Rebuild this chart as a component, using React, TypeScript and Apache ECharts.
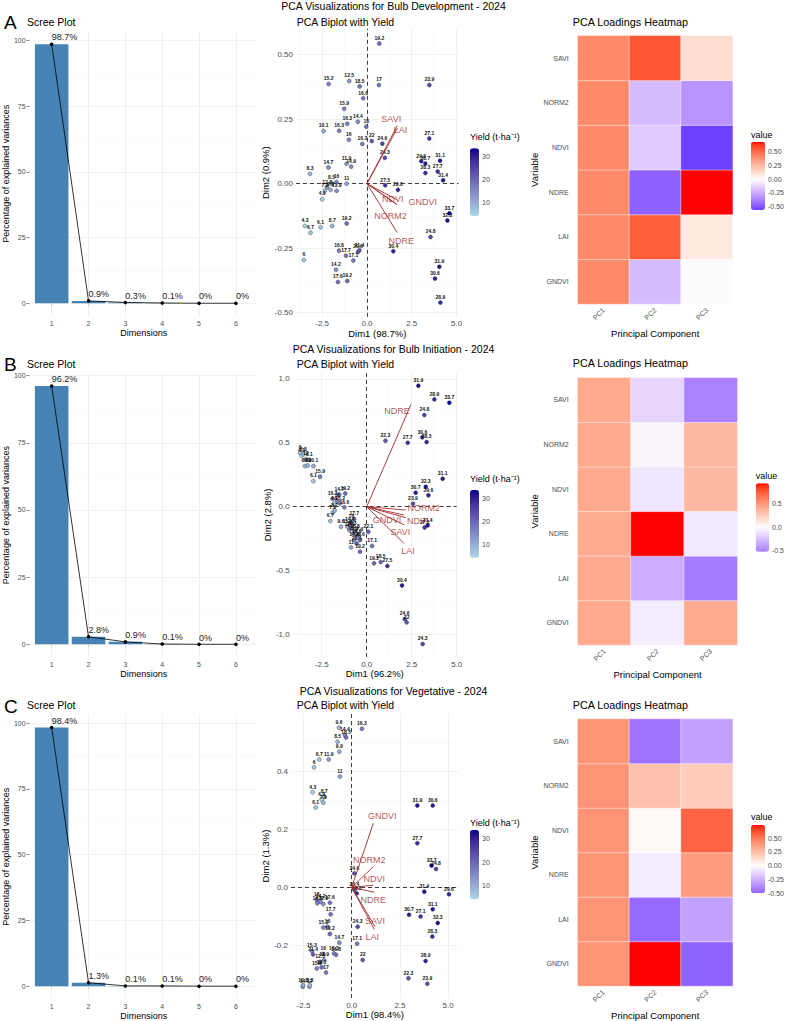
import React, { useEffect, useRef } from "react";
import * as echarts from "echarts";

const FONT = "'Liberation Sans', Arial, Helvetica, sans-serif";
const AXIS_GRAY = "#4D4D4D";
const ARROW_RED = "#A52A2A";
const OPEN_ARROW = "path://M5 0L10 10L8.4 10L5 3.4L1.6 10L0 10Z";

// ---------------- data ----------------
const dimensions = [1, 2, 3, 4, 5, 6];
const screeDev = [98.7, 0.9, 0.3, 0.1, 0, 0];
const screeInit = [96.2, 2.8, 0.9, 0.1, 0, 0];
const screeVeg = [98.4, 1.3, 0.1, 0.1, 0, 0];

const variables = ["GNDVI", "LAI", "NDRE", "NDVI", "NORM2", "SAVI"];
const components = ["PC1", "PC2", "PC3"];

// loadings [PC1, PC2, PC3], rows follow `variables`
const loadDev = [
  [0.41, -0.2, 0.0],
  [0.41, 0.54, 0.08],
  [0.41, -0.47, 0.685],
  [0.41, -0.155, -0.56],
  [0.41, -0.2, -0.32],
  [0.41, 0.56, 0.12],
];
const loadInit = [
  [0.41, -0.075, 0.4],
  [0.41, -0.33, -0.52],
  [0.4, 0.925, -0.09],
  [0.41, -0.1, 0.34],
  [0.41, -0.03, 0.34],
  [0.41, -0.165, -0.5],
];
const loadVeg = [
  [0.41, 0.74, -0.5],
  [0.41, -0.48, -0.3],
  [0.41, -0.06, 0.38],
  [0.41, 0.02, 0.56],
  [0.41, 0.24, 0.2],
  [0.41, -0.45, -0.3],
];

// biplot individuals [Dim1, Dim2, yield]
const ptsDev = [
  [0.69, 0.543, 19.2], [-2.14, 0.386, 15.2], [-0.99, 0.398, 12.5], [-0.41, 0.377, 18.5], [0.67, 0.382, 17],
  [3.48, 0.382, 23.9], [-0.21, 0.331, 16.6], [-1.27, 0.29, 15.9], [-1.1, 0.232, 16.3], [-0.51, 0.24, 14.4],
  [-0.04, 0.221, 18], [-2.42, 0.204, 10.1], [-1.55, 0.205, 16.3], [-1.01, 0.17, 16], [-0.26, 0.154, 16.3],
  [0.27, 0.165, 22], [0.86, 0.155, 24.6], [3.48, 0.175, 27.1], [1.0, 0.1, 24.3], [3.03, 0.087, 29.6],
  [3.26, 0.078, 30.7], [4.08, 0.089, 31.1], [3.26, 0.041, 28.3], [3.95, 0.047, 27.7], [4.25, 0.013, 31.4],
  [-2.15, 0.063, 14.7], [-1.14, 0.077, 11.9], [-0.88, 0.066, 14.9], [-3.18, 0.038, 8.3], [1.02, -0.006, 27.5],
  [1.73, -0.024, 29.8], [-1.7, 0.006, 16], [-1.98, 0.003, 8.5], [-1.14, 0.0, 11], [-2.22, -0.014, 12.9],
  [-2.35, -0.027, 7.9], [-2.03, -0.024, 9.9], [-1.69, -0.028, 13.9], [-2.5, -0.06, 4.9], [-3.46, -0.164, 4.3],
  [-3.15, -0.19, 6.7], [-2.59, -0.169, 6.1], [-1.94, -0.164, 8.7], [-1.13, -0.154, 19.2], [-3.52, -0.296, 6],
  [-1.56, -0.26, 16.8], [-1.17, -0.279, 17.7], [-0.5, -0.265, 20.6], [-0.42, -0.258, 21.4], [-0.76, -0.298, 17.1],
  [-1.73, -0.334, 14.2], [-1.62, -0.381, 17.6], [-1.1, -0.377, 19.2], [4.6, -0.115, 33.7], [4.49, -0.143, 32.3],
  [3.55, -0.207, 24.8], [1.47, -0.262, 30.4], [4.04, -0.322, 31.9], [3.8, -0.368, 30.6], [4.1, -0.461, 28.9],
];
const ptsInit = [
  [2.87, 0.947, 31.9], [3.76, 0.84, 28.9], [4.59, 0.814, 33.7], [3.2, 0.717, 24.8], [1.04, 0.516, 22.3],
  [2.28, 0.5, 27.7], [3.09, 0.543, 30.6], [3.33, 0.506, 28.3], [4.22, 0.219, 31.1], [3.28, 0.156, 32.3],
  [2.72, 0.11, 30.7], [3.43, 0.089, 29.6], [2.57, 0.023, 23.9], [3.22, -0.162, 27.1], [3.39, -0.146, 31.4],
  [0.09, -0.196, 22.1], [0.3, -0.308, 17.1], [0.41, -0.443, 19.2], [0.78, -0.433, 18.5], [1.15, -0.464, 27.5],
  [1.96, -0.616, 30.4], [2.11, -0.879, 24.6], [2.22, -0.905, 22], [3.11, -1.075, 24.3],
  [-3.7, 0.42, 6], [-3.62, 0.4, 4.3], [-3.52, 0.41, 8.3], [-3.37, 0.372, 12], [-3.19, 0.368, 8.1],
  [-3.43, 0.318, 8.5], [-3.28, 0.322, 9.9], [-2.96, 0.318, 10.1], [-2.59, 0.235, 15.9], [-2.96, 0.2, 6.1],
  [-1.52, 0.095, 14.7], [-1.19, 0.104, 19.2], [-1.89, 0.062, 16.3], [-1.63, 0.047, 16], [-1.48, 0.026, 15.2],
  [-1.24, -0.005, 16.6], [-1.81, 0.026, 4.9], [-2.02, -0.112, 6.7], [-1.89, -0.047, 7.9], [-1.78, -0.029, 8.7],
  [-1.43, -0.156, 9.6], [-1.07, -0.156, 11.9], [-0.93, -0.143, 14.4], [-0.83, -0.17, 16.3], [-0.96, -0.183, 12.9],
  [-0.74, -0.209, 13.9], [-0.65, -0.196, 16.8], [-0.56, -0.235, 14.9], [-0.46, -0.222, 17.6], [-0.7, -0.261, 14.2],
  [-0.37, -0.261, 20.6], [-0.56, -0.287, 21.4], [-0.87, -0.318, 11], [-0.37, -0.352, 19.2], [-0.69, -0.097, 17.7],
  [-0.85, -0.12, 18],
];
const ptsVeg = [
  [-0.66, 0.551, 9.6], [0.53, 0.547, 16.3], [-0.35, 0.525, 14.4], [-0.29, 0.517, 18.5], [-0.73, 0.502, 8.5],
  [-0.64, 0.468, 9.9], [-1.68, 0.441, 6.7], [-1.19, 0.441, 11.9], [-1.95, 0.414, 6], [-0.61, 0.382, 11],
  [-2.02, 0.328, 4.3], [-1.43, 0.313, 8.7], [-1.56, 0.303, 4.9], [-1.47, 0.292, 7.9], [-1.87, 0.275, 6.1],
  [3.4, 0.282, 31.9], [4.2, 0.282, 30.6], [3.4, 0.152, 27.7], [4.14, 0.075, 33.7], [4.37, 0.063, 24.8],
  [0.14, 0.048, 24.6], [0.14, -0.009, 20.4], [0.26, -0.021, 29.8], [3.76, -0.015, 31.4], [5.04, -0.024, 29.6],
  [4.2, -0.076, 31.1], [2.97, -0.095, 30.7], [3.57, -0.101, 27.1], [4.46, -0.123, 32.3], [4.18, -0.17, 28.3],
  [0.31, -0.136, 24.3], [0.28, -0.195, 17.1], [0.57, -0.251, 22], [3.83, -0.254, 28.9], [2.94, -0.314, 22.3],
  [3.92, -0.333, 23.9],
  [-1.81, -0.044, 18], [-1.61, -0.05, 14.2], [-1.47, -0.058, 12.9], [-1.78, -0.055, 16.6], [-1.13, -0.053, 17.6],
  [-1.09, -0.093, 17.7], [-1.25, -0.136, 16], [-1.47, -0.139, 15.2], [-1.13, -0.161, 19.2], [-0.64, -0.191, 14.7],
  [-2.06, -0.22, 15.3], [-2.0, -0.232, 21.4], [-0.81, -0.233, 16.8], [-0.92, -0.228, 16.3], [-1.47, -0.23, 16],
  [-1.43, -0.251, 13.9], [-1.64, -0.257, 12.5], [-1.81, -0.28, 15.9], [-1.56, -0.276, 19.2], [-1.33, -0.294, 17],
  [-2.54, -0.343, 14], [-2.19, -0.343, 12], [-2.52, -0.338, 10.1], [-2.17, -0.338, 8.3],
];

// variable arrows [name, Dim1, Dim2]
const arrDev = [["SAVI", 1.69, 0.225], ["LAI", 1.7, 0.215], ["NDVI", 1.66, -0.062], ["GNDVI", 1.67, -0.08], ["NORM2", 1.65, -0.08], ["NDRE", 1.69, -0.19]];
const arrInit = [["NDRE", 2.46, 0.8], ["NORM2", 2.17, -0.026], ["GNDVI", 2.07, -0.065], ["NDVI", 2.17, -0.086], ["SAVI", 2.09, -0.143], ["LAI", 2.07, -0.287]];
const arrVeg = [["GNDVI", 1.12, 0.221], ["NORM2", 1.12, 0.071], ["NDVI", 1.12, 0.007], ["NDRE", 1.17, -0.017], ["SAVI", 1.21, -0.136], ["LAI", 1.17, -0.145]];

// tick labels
const screeYTicks = [0, 25, 50, 75, 100];
const bipXTicks = [-2.5, 0, 2.5, 5];
const devYTicks = [-0.5, -0.25, 0, 0.25, 0.5];
const initYTicks = [-1, -0.5, 0, 0.5, 1];
const vegYTicks = [-0.2, 0, 0.2, 0.4];
const yieldTicks = [10, 20, 30];
const heatTicksDev = [-0.5, -0.25, 0, 0.25, 0.5];
const heatTicksInit = [-0.5, 0, 0.5];
const heatTicksVeg = [-0.5, -0.25, 0, 0.25, 0.5];

const stages = [
  { title: "PCA Visualizations for Bulb Development - 2024", letter: "A", scree: screeDev, pts: ptsDev, arrows: arrDev, loads: loadDev, yTicks: devYTicks, yDigits: 2, heatTicks: heatTicksDev, heatDigits: 2, dim1: "Dim1 (98.7%)", dim2: "Dim2 (0.9%)" },
  { title: "PCA Visualizations for Bulb Initiation - 2024", letter: "B", scree: screeInit, pts: ptsInit, arrows: arrInit, loads: loadInit, yTicks: initYTicks, yDigits: 1, heatTicks: heatTicksInit, heatDigits: 1, dim1: "Dim1 (96.2%)", dim2: "Dim2 (2.8%)" },
  { title: "PCA Visualizations for Vegetative - 2024", letter: "C", scree: screeVeg, pts: ptsVeg, arrows: arrVeg, loads: loadVeg, yTicks: vegYTicks, yDigits: 1, heatTicks: heatTicksVeg, heatDigits: 2, dim1: "Dim1 (98.4%)", dim2: "Dim2 (1.3%)" },
];

// ---------------- layout (pixels / scale limits) ----------------
const layouts = [
  {
    titleY: 5.7, subY: 21.5,
    scree: { l: 27, t: 31.2, w: 231, h: 285 },
    bi: { l: 296, t: 28.6, w: 162.5, h: 288.2, xMin: -3.96, xMax: 5.11, yMin: -0.516, yMax: 0.601, yGap: 18 },
    heat: { l: 577.7, t: 35.7, w: 155, h: 268.3 },
    ybar: { l: 470, t: 148.3, w: 9, h: 67.7, titleY: 137.3 },
    hbar: { l: 751, t: 141.7, w: 14, h: 68.3, titleY: 135 },
  },
  {
    titleY: 349, subY: 363.3,
    scree: { l: 27, t: 373, w: 231, h: 284.2 },
    bi: { l: 292.7, t: 372.8, w: 164, h: 284.2, xMin: -4.11, xMax: 5.0, yMin: -1.176, yMax: 1.048, yGap: 18 },
    heat: { l: 577.7, t: 377.7, w: 159.6, h: 267.3 },
    ybar: { l: 470, t: 490, w: 9, h: 67.7, titleY: 479.3 },
    hbar: { l: 755.7, t: 483.3, w: 13.3, h: 68.4, titleY: 475.7 },
  },
  {
    titleY: 690.7, subY: 705,
    scree: { l: 27, t: 714.5, w: 231, h: 285 },
    bi: { l: 291, t: 714, w: 167.7, h: 284, xMin: -3.145, xMax: 5.545, yMin: -0.382, yMax: 0.598, yGap: 15 },
    heat: { l: 577.7, t: 719, w: 155, h: 268.3 },
    ybar: { l: 470, t: 830, w: 9, h: 69.3, titleY: 822.7 },
    hbar: { l: 751, t: 825, w: 14, h: 68.3, titleY: 816.7 },
  },
];
const arrowLabelOffsets = [
  [[-6, -7], [3, 2], [-4, -1], [26, -2], [-6, 12], [4, 8]],
  [[-14, 7], [18, -2], [-17, 5], [12, 3], [-4, 7], [4, 8]],
  [[9, -7], [-4, -7], [1, -6], [-1, 8], [0, -6], [-2, 8]],
];

// ---------------- colour helpers (Lab interpolation like ggplot) ----------------
const hexRgb = (h: string) => [1, 3, 5].map((i) => parseInt(h.slice(i, i + 2), 16));
const toLin = (c: number) => { c /= 255; return c <= 0.04045 ? c / 12.92 : Math.pow((c + 0.055) / 1.055, 2.4); };
const fromLin = (c: number) => { const v = c <= 0.0031308 ? 12.92 * c : 1.055 * Math.pow(c, 1 / 2.4) - 0.055; return Math.round(Math.min(1, Math.max(0, v)) * 255); };
const XN = 0.95047, YN = 1, ZN = 1.08883;
function rgbToLab(rgb: number[]) {
  const [r, g, b] = rgb.map(toLin);
  const x = (0.4124564 * r + 0.3575761 * g + 0.1804375 * b) / XN;
  const y = (0.2126729 * r + 0.7151522 * g + 0.072175 * b) / YN;
  const z = (0.0193339 * r + 0.119192 * g + 0.9503041 * b) / ZN;
  const f = (t: number) => (t > 216 / 24389 ? Math.cbrt(t) : ((24389 / 27) * t + 16) / 116);
  const fx = f(x), fy = f(y), fz = f(z);
  return [116 * fy - 16, 500 * (fx - fy), 200 * (fy - fz)];
}
function labToHex(lab: number[]) {
  const [L, a, b] = lab;
  const fy = (L + 16) / 116, fx = fy + a / 500, fz = fy - b / 200;
  const inv = (t: number) => { const t3 = t * t * t; return t3 > 216 / 24389 ? t3 : (116 * t - 16) / (24389 / 27); };
  const x = inv(fx) * XN, y = inv(fy) * YN, z = inv(fz) * ZN;
  const r = 3.2404542 * x - 1.5371385 * y - 0.4985314 * z;
  const g = -0.969266 * x + 1.8760108 * y + 0.041556 * z;
  const bb = 0.0556434 * x - 0.2040259 * y + 1.0572252 * z;
  return "#" + [r, g, bb].map((v) => fromLin(v).toString(16).padStart(2, "0")).join("");
}
function mixLab(c1: string, c2: string, t: number) {
  const A = rgbToLab(hexRgb(c1)), B = rgbToLab(hexRgb(c2));
  return labToHex(A.map((v, i) => v + (B[i] - v) * t));
}
function heatStops(min: number, max: number) {
  const M = Math.max(Math.abs(min), Math.abs(max));
  const out: string[] = [];
  for (let i = 0; i <= 24; i++) {
    const v = min + ((max - min) * i) / 24;
    const t = v / M;
    out.push(t < 0 ? mixLab("#FFFFFF", "#0000FF", -t) : mixLab("#FFFFFF", "#FF0000", t));
  }
  return out;
}
function yieldStops() {
  const out: string[] = [];
  for (let i = 0; i <= 16; i++) out.push(mixLab("#ADD8E6", "#00008B", i / 16));
  return out;
}
function minorsOf(ticks: number[], lo: number, hi: number) {
  const step = ticks[1] - ticks[0];
  let v = ticks[0] - step / 2;
  while (v - step >= lo) v -= step;
  const out: number[] = [];
  for (; v <= hi + 1e-9; v += step) if (v >= lo - 1e-9) out.push(+v.toFixed(6));
  return out;
}

// ---------------- option ----------------
function buildOption() {
  const grid: any[] = [], xAxis: any[] = [], yAxis: any[] = [], series: any[] = [], visualMap: any[] = [], title: any[] = [];
  const major = { color: "#EBEBEB", width: 0.7, type: "solid" };
  const minor = { color: "#F3F3F3", width: 0.45, type: "solid" };
  const gl = (axis: string, v: number, st: any) => ({ [axis]: v, lineStyle: st });
  const lbl = (vals: any, digits: number | null, extra: any = {}) => ({
    customValues: vals, fontSize: 7, color: AXIS_GRAY, fontFamily: FONT,
    formatter: (v: number) => (digits == null ? String(v) : Number(v).toFixed(digits)), ...extra,
  });
  const addText = (text: string, left: any, cy: number, size: number) =>
    title.push({ text, left, top: cy - size / 2, padding: 0, textStyle: { fontSize: size, fontWeight: "normal", color: "#000", fontFamily: FONT } });
  const allYields = stages.flatMap((s) => s.pts.map((p) => p[2]));
  const yMinV = Math.min(...allYields), yMaxV = Math.max(...allYields);
  const yStops = yieldStops();

  stages.forEach((s, r) => {
    const L = layouts[r];
    addText(s.title, "center", L.titleY, 10.5);
    addText(s.letter, 4, L.subY + 1, 19);
    addText("Scree Plot", 27, L.subY, 10.5);
    addText("PCA Biplot with Yield", 296.7, L.subY, 10.5);
    addText("PCA Loadings Heatmap", 572.7, L.subY, 10.8);
    addText("Yield (t·ha⁻¹)", L.ybar.l, L.ybar.titleY, 9);
    addText("value", L.hbar.l, L.hbar.titleY, 9);

    // ---- scree ----
    const g0 = grid.length;
    const smax = Math.max(...s.scree);
    grid.push({ left: L.scree.l, top: L.scree.t, width: L.scree.w, height: L.scree.h });
    xAxis.push({
      type: "value", gridIndex: g0, min: 0.4, max: 6.6,
      axisLine: { show: false }, splitLine: { show: false },
      axisTick: { show: true, customValues: dimensions, length: 3, lineStyle: { color: "#333", width: 0.6 } },
      axisLabel: lbl(dimensions, null, { margin: 4 }),
      name: "Dimensions", nameLocation: "middle", nameGap: 10,
      nameTextStyle: { fontSize: 9, color: "#000", fontFamily: FONT, verticalAlign: "top" },
    });
    yAxis.push({
      type: "value", gridIndex: g0, min: -0.05 * smax, max: 1.05 * smax,
      axisLine: { show: false }, splitLine: { show: false },
      axisTick: { show: true, customValues: screeYTicks, length: 3, lineStyle: { color: "#333", width: 0.6 } },
      axisLabel: lbl(screeYTicks, null, { margin: 4 }),
      name: "Percentage of explained variances", nameLocation: "middle", nameGap: 17,
      nameTextStyle: { fontSize: 9, color: "#000", fontFamily: FONT },
    });
    const screeData = dimensions.map((d, i) => [d, s.scree[i]]);
    series.push({
      type: "bar", xAxisIndex: g0, yAxisIndex: g0, data: screeData, barWidth: (0.9 * L.scree.w) / 6.2,
      itemStyle: { color: "#4682B4" }, z: 2, silent: true,
      markLine: {
        silent: true, symbol: ["none", "none"], z: 1, label: { show: false }, animation: false,
        data: [
          ...screeYTicks.map((v) => gl("yAxis", v, major)),
          ...minorsOf(screeYTicks, -0.05 * smax, 1.05 * smax).map((v) => gl("yAxis", v, minor)),
          ...dimensions.map((v) => gl("xAxis", v, major)),
        ],
      },
    });
    series.push({
      type: "line", xAxisIndex: g0, yAxisIndex: g0, data: screeData, symbol: "circle", symbolSize: 3.5, z: 3,
      itemStyle: { color: "#000" }, lineStyle: { color: "#000", width: 0.8 }, silent: true,
      label: {
        show: true, position: "top", align: "left", distance: 0.5, fontSize: 9, color: "#222", fontFamily: FONT,
        formatter: (p: any) => `${p.value[1]}%`,
      },
    });

    // ---- biplot ----
    const g1 = grid.length;
    const B = L.bi;
    grid.push({ left: B.l, top: B.t, width: B.w, height: B.h });
    xAxis.push({
      type: "value", gridIndex: g1, min: B.xMin, max: B.xMax,
      axisLine: { show: false }, axisTick: { show: false }, splitLine: { show: false },
      axisLabel: lbl(bipXTicks, 1, { margin: 3, fontSize: 8 }),
      name: s.dim1, nameLocation: "middle", nameGap: 11,
      nameTextStyle: { fontSize: 9.5, color: "#000", fontFamily: FONT, verticalAlign: "top" },
    });
    yAxis.push({
      type: "value", gridIndex: g1, min: B.yMin, max: B.yMax,
      axisLine: { show: false }, axisTick: { show: false }, splitLine: { show: false },
      axisLabel: lbl(s.yTicks, s.yDigits, { margin: 3, fontSize: 8 }),
      name: s.dim2, nameLocation: "middle", nameGap: B.yGap,
      nameTextStyle: { fontSize: 9.5, color: "#000", fontFamily: FONT },
    });
    const dash = { color: "#111", width: 0.8, type: [4, 3] };
    const ptIdx = series.length;
    series.push({
      type: "scatter", xAxisIndex: g1, yAxisIndex: g1, data: s.pts, symbolSize: 4, z: 3, silent: true,
      itemStyle: { borderColor: "#2a2a2a", borderWidth: 0.4, opacity: 1 },
      label: {
        show: true, position: "top", distance: 1, fontSize: 5, fontWeight: "bold", color: "#111", fontFamily: FONT,
        formatter: (p: any) => String(p.value[2]),
      },
      markLine: {
        silent: true, symbol: ["none", "none"], z: 1, label: { show: false }, animation: false,
        data: [
          ...bipXTicks.map((v) => gl("xAxis", v, major)),
          ...minorsOf(bipXTicks, B.xMin, B.xMax).map((v) => gl("xAxis", v, minor)),
          ...s.yTicks.map((v) => gl("yAxis", v, major)),
          ...minorsOf(s.yTicks, B.yMin, B.yMax).map((v) => gl("yAxis", v, minor)),
          gl("xAxis", 0, dash),
          gl("yAxis", 0, dash),
        ],
      },
    });
    series.push({
      type: "scatter", xAxisIndex: g1, yAxisIndex: g1, symbolSize: 1, z: 4, silent: true,
      itemStyle: { color: "rgba(0,0,0,0)" },
      data: s.arrows.map((a: any, i: number) => ({
        name: a[0], value: [a[1], a[2]],
        label: { offset: arrowLabelOffsets[r][i] },
      })),
      label: { show: true, position: "inside", formatter: "{b}", fontSize: 9, color: ARROW_RED, fontFamily: FONT },
      markLine: {
        silent: true, symbol: ["none", OPEN_ARROW], symbolSize: [0, 6], z: 4, label: { show: false }, animation: false,
        lineStyle: { color: ARROW_RED, width: 0.9, type: "solid" },
        itemStyle: { color: ARROW_RED },
        data: s.arrows.map((a: any) => [{ coord: [0, 0] }, { coord: [a[1], a[2]] }]),
      },
    });
    visualMap.push({
      type: "continuous", seriesIndex: ptIdx, dimension: 2, min: yMinV, max: yMaxV,
      inRange: { color: yStops }, show: true, calculable: false, hoverLink: false, padding: 0,
      left: L.ybar.l, top: L.ybar.t, itemWidth: L.ybar.w, itemHeight: L.ybar.h,
    });

    // ---- heatmap ----
    const g2 = grid.length;
    const H = L.heat;
    grid.push({ left: H.l, top: H.t, width: H.w, height: H.h });
    xAxis.push({
      type: "category", gridIndex: g2, data: components,
      axisLine: { show: false }, axisTick: { show: false }, splitLine: { show: false },
      axisLabel: { rotate: 45, fontSize: 7, color: AXIS_GRAY, fontFamily: FONT, margin: 5 },
      name: "Principal Component", nameLocation: "middle", nameGap: 24,
      nameTextStyle: { fontSize: 9.5, color: "#000", fontFamily: FONT, verticalAlign: "top" },
    });
    yAxis.push({
      type: "category", gridIndex: g2, data: variables,
      axisLine: { show: false }, axisTick: { show: false }, splitLine: { show: false },
      axisLabel: { fontSize: 7, color: AXIS_GRAY, fontFamily: FONT, margin: 9 },
      name: "Variable", nameLocation: "middle", nameGap: 37,
      nameTextStyle: { fontSize: 9.5, color: "#000", fontFamily: FONT },
    });
    const heatData: number[][] = [];
    s.loads.forEach((row, i) => row.forEach((v, j) => heatData.push([j, i, v])));
    const vals = heatData.map((d) => d[2]);
    const hMin = Math.min(...vals), hMax = Math.max(...vals);
    const hIdx = series.length;
    series.push({
      type: "heatmap", xAxisIndex: g2, yAxisIndex: g2, data: heatData, silent: true,
      itemStyle: { borderColor: "rgba(255,255,255,0.75)", borderWidth: 0.6 },
      emphasis: { disabled: true },
    });
    visualMap.push({
      type: "continuous", seriesIndex: hIdx, dimension: 2, min: hMin, max: hMax,
      inRange: { color: heatStops(hMin, hMax) }, show: true, calculable: false, hoverLink: false, padding: 0,
      left: L.hbar.l, top: L.hbar.t, itemWidth: L.hbar.w, itemHeight: L.hbar.h,
    });

    // ---- colourbar label axes ----
    const cb = [
      { box: L.ybar, min: yMinV, max: yMaxV, ticks: yieldTicks, digits: null as any },
      { box: L.hbar, min: hMin, max: hMax, ticks: s.heatTicks, digits: s.heatDigits },
    ];
    cb.forEach((c) => {
      const gi = grid.length;
      grid.push({ left: c.box.l, top: c.box.t, width: c.box.w, height: c.box.h });
      xAxis.push({ type: "value", gridIndex: gi, show: false, min: 0, max: 1 });
      yAxis.push({
        type: "value", gridIndex: gi, position: "right", min: c.min, max: c.max,
        axisLine: { show: false }, splitLine: { show: false },
        axisTick: { show: true, inside: true, customValues: c.ticks, length: c.box.w / 5, lineStyle: { color: "#fff", width: 0.6 } },
        axisLabel: lbl(c.ticks, c.digits, { margin: 3, fontSize: 7 }),
      });
    });
  });

  return {
    animation: false,
    backgroundColor: "#fff",
    textStyle: { fontFamily: FONT },
    title, grid, xAxis, yAxis, series, visualMap,
  };
}

export default function App() {
  const ref = useRef<HTMLDivElement>(null);
  useEffect(() => {
    const chart = echarts.init(ref.current as HTMLDivElement, null, { renderer: "svg" });
    chart.setOption(buildOption() as any);
    return () => chart.dispose();
  }, []);
  return (
    <div
      ref={ref}
      style={{ position: "fixed", left: 0, top: 0, width: 787, height: 1021, background: "#fff" }}
    />
  );
}
